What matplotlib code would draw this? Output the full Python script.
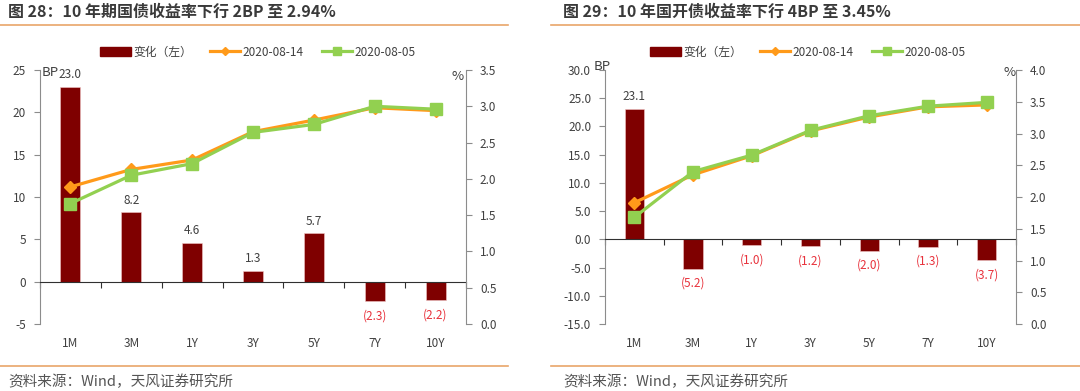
import matplotlib
matplotlib.use("Agg")
import matplotlib.pyplot as plt
import matplotlib.transforms as mtransforms
from matplotlib.lines import Line2D
from matplotlib.patches import Patch
import numpy as np

plt.rcParams['font.family'] = ['Noto Sans CJK SC', 'DejaVu Sans']

# 数据
tenors = ["1M", "3M", "1Y", "3Y", "5Y", "7Y", "10Y"]

# 图28 国债
gz_change = [23.0, 8.2, 4.6, 1.3, 5.7, -2.3, -2.2]
gz_0814 = [1.89, 2.13, 2.26, 2.65, 2.81, 2.98, 2.94]
gz_0805 = [1.66, 2.05, 2.21, 2.64, 2.75, 3.00, 2.96]

# 图29 国开债
gk_change = [23.1, -5.2, -1.0, -1.2, -2.0, -1.3, -3.7]
gk_0814 = [1.91, 2.35, 2.65, 3.04, 3.26, 3.42, 3.45]
gk_0805 = [1.68, 2.40, 2.66, 3.05, 3.28, 3.43, 3.49]

titles = ["图 28：10 年期国债收益率下行 2BP 至 2.94%",
          "图 29：10 年国开债收益率下行 4BP 至 3.45%"]
source = "资料来源：Wind，天风证券研究所"
legend_labels = ["变化（左）", "2020-08-14", "2020-08-05"]

BAR_C = "#7F0000"
ORANGE = "#FF9A1A"
GREEN = "#92D050"
GRAY = "#8C8C8C"
TXT = "#404040"
LINE_C = "#E9A56A"

W, H = 1080, 391
fig = plt.figure(figsize=(W / 100, H / 100), dpi=100)


def px(x0, y0, x1, y1):
    return [x0 / W, 1 - y1 / H, (x1 - x0) / W, (y1 - y0) / H]


def panel(rect, title, title_x, sep, change, s14, s05, ylim_l, yticks_l, fmt_l,
          ylim_r, yticks_r, bp_xy, pct_xy, leg_x):
    ax = fig.add_axes(rect)
    x = np.arange(len(tenors))
    ax.bar(x, change, width=0.33, color=BAR_C, edgecolor="#F2C6C6", linewidth=0.4, zorder=2)
    for xi, v in zip(x, change):
        if v >= 0:
            ax.annotate(f"{v:.1f}", (xi, v), xytext=(0, 4), textcoords="offset points",
                        ha="center", va="bottom", fontsize=8.5, color=TXT)
        else:
            ax.annotate(f"({abs(v):.1f})", (xi, v), xytext=(0, -6), textcoords="offset points",
                        ha="center", va="top", fontsize=8.5, color="#E8323C")
    ax.set_xlim(-0.5, len(tenors) - 0.5)
    ax.set_ylim(*ylim_l)
    ax.set_yticks(yticks_l)
    ax.set_yticklabels([fmt_l.format(v) for v in yticks_l])
    ax.spines["top"].set_visible(False)
    ax.spines["right"].set_visible(False)
    ax.spines["left"].set_color(GRAY)
    ax.spines["bottom"].set_position(("data", 0))
    ax.spines["bottom"].set_color("#303030")
    ax.set_xticks(np.arange(-0.5, len(tenors), 1.0))
    ax.set_xticklabels([])
    ax.tick_params(axis="x", direction="out", length=4, color="#303030")
    ax.tick_params(axis="y", direction="out", length=4, color=GRAY, labelsize=8.5,
                   labelcolor=TXT, pad=6)
    trans = mtransforms.blended_transform_factory(ax.transData, ax.transAxes)
    for xi, t in zip(x, tenors):
        ax.text(xi, -0.075, t, transform=trans, ha="center", va="center", fontsize=8.5, color=TXT)

    ax2 = ax.twinx()
    ax2.plot(x, s14, color=ORANGE, lw=2.3, marker="D", ms=6, zorder=3)
    ax2.plot(x, s05, color=GREEN, lw=2.3, marker="s", ms=8, zorder=4)
    ax2.set_ylim(*ylim_r)
    ax2.set_yticks(yticks_r)
    ax2.set_yticklabels([f"{v:.1f}" for v in yticks_r])
    for s in ["top", "left", "bottom"]:
        ax2.spines[s].set_visible(False)
    ax2.spines["right"].set_color(GRAY)
    ax2.tick_params(axis="y", direction="out", length=4, color=GRAY, labelsize=8.5,
                    labelcolor=TXT, pad=6)

    fig.text(bp_xy[0] / W, 1 - bp_xy[1] / H, "BP", fontsize=9.5, color=TXT, ha="left", va="center")
    fig.text(pct_xy[0] / W, 1 - pct_xy[1] / H, "%", fontsize=9.5, color=TXT, ha="left", va="center")

    handles = [Patch(color=BAR_C),
               Line2D([], [], color=ORANGE, lw=2.3, marker="D", ms=4),
               Line2D([], [], color=GREEN, lw=2.3, marker="s", ms=6)]
    fig.legend(handles, legend_labels, loc="center", bbox_to_anchor=(leg_x / W, 1 - 52 / H),
               ncol=3, frameon=False, fontsize=8.5, handlelength=2.6, handletextpad=0.2,
               columnspacing=1.5, labelcolor=TXT)

    fig.text(title_x / W, 1 - 12 / H, title, fontsize=11.5, fontweight="bold", color="#3A3A3A",
             ha="left", va="center")
    fig.add_artist(Line2D([sep[0] / W, sep[1] / W], [1 - 25 / H, 1 - 25 / H], color=LINE_C, lw=1.2))
    fig.add_artist(Line2D([sep[0] / W, sep[1] / W], [1 - 366 / H, 1 - 366 / H], color=LINE_C, lw=1.2))
    fig.text(title_x / W, 1 - 382 / H, source, fontsize=10.5, color="#555555", ha="left", va="center")


panel(px(40, 70, 466, 324), titles[0], 8, (0, 508), gz_change, gz_0814, gz_0805,
      (-5, 25), np.arange(-5, 26, 5), "{:.0f}", (0, 3.5), np.arange(0, 3.51, 0.5),
      (42, 72), (452, 76), 258)
panel(px(605, 70, 1016, 324), titles[1], 563, (551, 1080), gk_change, gk_0814, gk_0805,
      (-15, 30), np.arange(-15, 31, 5), "{:.1f}", (0, 4.0), np.arange(0, 4.01, 0.5),
      (594, 67), (1004, 73), 808)

fig.savefig("out.png", dpi=100)
